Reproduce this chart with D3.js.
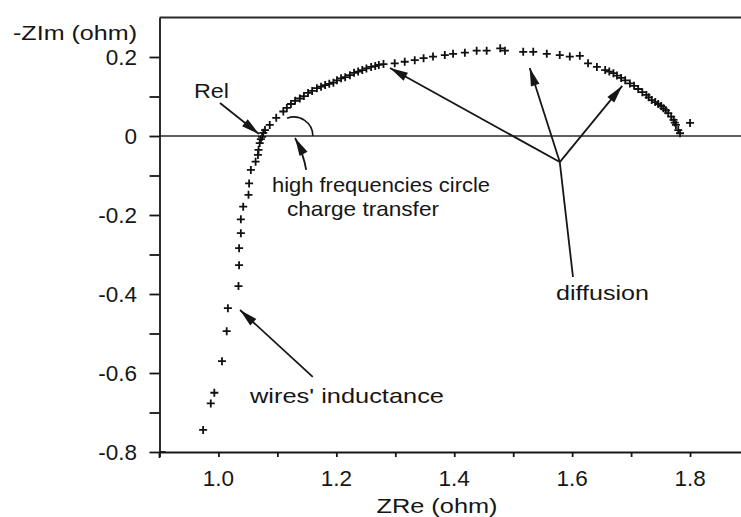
<!DOCTYPE html>
<html>
<head>
<meta charset="utf-8">
<script src="https://cdn.jsdelivr.net/npm/d3@7"></script>
<style>
  html, body { margin: 0; padding: 0; background: #fff; }
  svg { display: block; }
  text { font-family: "Liberation Sans", Arial, Helvetica, sans-serif; fill: #161616; }
</style>
</head>
<body>
<svg id="chart" width="741" height="517"></svg>
<script>
// Impedance spectrum (Nyquist plot): real part vs. negative imaginary part, in ohm.
// Inductive branch below the real axis (high frequencies, wires' inductance).
const inductiveRe = [0.974, 0.987, 0.993, 1.006, 1.014, 1.016, 1.034, 1.035, 1.035, 1.038,
                     1.038, 1.042, 1.051, 1.052, 1.055, 1.063, 1.067, 1.068, 1.070, 1.072, 1.074];
const inductiveIm = [-0.744, -0.677, -0.650, -0.570, -0.494, -0.436, -0.380, -0.327, -0.284, -0.246,
                     -0.211, -0.179, -0.149, -0.120, -0.086, -0.065, -0.048, -0.035, -0.018, -0.008, -0.002];

// Capacitive arc above the real axis (charge transfer + diffusion).
const arcRe = [1.076, 1.079, 1.087, 1.098, 1.110, 1.116, 1.123, 1.130, 1.138, 1.145,
               1.152, 1.159, 1.167, 1.174, 1.181, 1.188, 1.195, 1.201, 1.208, 1.215,
               1.223, 1.230, 1.237, 1.244, 1.251, 1.259, 1.266, 1.272, 1.280, 1.299,
               1.316, 1.333, 1.348, 1.364, 1.384, 1.398, 1.418, 1.438, 1.455, 1.478,
               1.486, 1.517, 1.534, 1.557, 1.579, 1.596, 1.613, 1.627, 1.642, 1.656,
               1.663, 1.670, 1.676, 1.683, 1.690, 1.698, 1.705, 1.712, 1.719, 1.726,
               1.730, 1.735, 1.741, 1.746, 1.751, 1.755, 1.759, 1.763, 1.768, 1.772,
               1.774, 1.776, 1.780, 1.783, 1.800];
const arcIm = [0.008, 0.015, 0.028, 0.046, 0.062, 0.071, 0.081, 0.089, 0.095, 0.101,
               0.109, 0.114, 0.121, 0.125, 0.129, 0.132, 0.135, 0.141, 0.146, 0.149,
               0.154, 0.160, 0.163, 0.167, 0.171, 0.175, 0.177, 0.180, 0.182, 0.184,
               0.188, 0.192, 0.197, 0.201, 0.205, 0.208, 0.211, 0.216, 0.216, 0.222,
               0.216, 0.213, 0.213, 0.208, 0.205, 0.201, 0.203, 0.184, 0.175, 0.167,
               0.163, 0.159, 0.153, 0.147, 0.141, 0.133, 0.127, 0.119, 0.111, 0.104,
               0.098, 0.091, 0.086, 0.081, 0.076, 0.070, 0.065, 0.058, 0.049, 0.041,
               0.034, 0.028, 0.015, 0.007, 0.033];

const xMajorTicks = [1.0, 1.2, 1.4, 1.6, 1.8];
const xMinorTicks = [0.9, 1.1, 1.3, 1.5, 1.7, 1.9];
const yMajorTicks = [-0.8, -0.6, -0.4, -0.2, 0, 0.2];
const yMinorTicks = [-0.7, -0.5, -0.3, -0.1, 0.1];
const xTitle = "ZRe (ohm)";
const yTitle = "-ZIm (ohm)";

const svg = d3.select("#chart");
const W = 741;
const ink = "#161616";

const x = d3.scaleLinear().domain([0.9, 1.9]).range([159.5, 749]);
const y = d3.scaleLinear().domain([-0.8, 0.3]).range([452, 17.5]);

const fmtY = v => (v === 0 ? "0" : d3.format(".1f")(v).replace("\u2212", "-"));
const fmtX = d3.format(".1f");

// frame: top border and real axis (zero line)
svg.append("line").attr("x1", x(0.9)).attr("x2", W).attr("y1", y(0.3)).attr("y2", y(0.3))
  .attr("stroke", "#2a2a2a").attr("stroke-width", 1.8);
svg.append("line").attr("x1", x(0.9)).attr("x2", W).attr("y1", y(0)).attr("y2", y(0))
  .attr("stroke", "#2a2a2a").attr("stroke-width", 1.6);

// axes (ticks only; labels are set below)
function styleAxis(g) {
  g.selectAll("path, line").attr("stroke", ink).attr("stroke-width", 1.8);
  g.selectAll("text").remove();
}
svg.append("g").attr("transform", `translate(0,${y(-0.8)})`)
  .call(d3.axisBottom(x).tickValues(xMajorTicks.concat(xMinorTicks)).tickSize(5).tickSizeOuter(0).tickFormat(""))
  .call(styleAxis);
svg.append("g").attr("transform", `translate(${x(0.9)},0)`)
  .call(d3.axisLeft(y).tickValues(yMajorTicks.concat(yMinorTicks)).tickSize(10).tickSizeOuter(0).tickFormat(""))
  .call(styleAxis);
// small overshoot of the axes at the origin corner
svg.append("line").attr("x1", x(0.9)).attr("x2", x(0.9)).attr("y1", y(-0.8)).attr("y2", y(-0.8) + 6)
  .attr("stroke", ink).attr("stroke-width", 1.8);
svg.append("line").attr("x1", x(0.9)).attr("x2", x(0.9) + 6).attr("y1", y(-0.8)).attr("y2", y(-0.8))
  .attr("stroke", ink).attr("stroke-width", 1.8);

const FS = 21;
// the lettering of this figure is set wide; width is given explicitly where known
function label(str, px, py, anchor, width, size) {
  const t = svg.append("text").attr("x", px).attr("y", py)
    .attr("text-anchor", anchor || "start").attr("font-size", size || FS).text(str);
  if (width) t.attr("textLength", width).attr("lengthAdjust", "spacingAndGlyphs");
  return t;
}

// tick labels
yMajorTicks.forEach(v => label(fmtY(v), 137, y(v) + 7.5, "end", null, 22.5));
xMajorTicks.forEach(v => label(fmtX(v), x(v), 486, "middle", null, 22.5));

// axis titles
label(yTitle, 137, 40, "end", 124);
label(xTitle, 437, 513, "middle", 121);

// data markers
const cross = "M-4,0H4M0,-4V4";
const pts = inductiveRe.map((r, i) => [r, inductiveIm[i]])
  .concat(arcRe.map((r, i) => [r, arcIm[i]]));
svg.append("g").selectAll("path").data(pts).join("path")
  .attr("transform", d => `translate(${x(d[0])},${y(d[1])})`)
  .attr("d", cross).attr("stroke", "#111").attr("stroke-width", 1.8).attr("fill", "none");

// arrows with filled heads
function arrow(x0, y0, x1, y1, bend) {
  const p0 = [x(x0), y(y0)], p1 = [x(x1), y(y1)];
  let dir;
  if (bend) {
    const c = [(p0[0] + p1[0]) / 2 + bend[0], (p0[1] + p1[1]) / 2 + bend[1]];
    svg.append("path").attr("d", `M${p0[0]},${p0[1]}Q${c[0]},${c[1]} ${p1[0]},${p1[1]}`)
      .attr("fill", "none").attr("stroke", ink).attr("stroke-width", 1.8);
    dir = [p1[0] - c[0], p1[1] - c[1]];
  } else {
    svg.append("line").attr("x1", p0[0]).attr("y1", p0[1]).attr("x2", p1[0]).attr("y2", p1[1])
      .attr("stroke", ink).attr("stroke-width", 1.8);
    dir = [p1[0] - p0[0], p1[1] - p0[1]];
  }
  const L = Math.hypot(dir[0], dir[1]);
  const u = [dir[0] / L, dir[1] / L], n = [-u[1], u[0]];
  const len = 18, hw = 4.5;
  const b = [p1[0] - u[0] * len, p1[1] - u[1] * len];
  svg.append("path")
    .attr("d", `M${p1[0]},${p1[1]}L${b[0] + n[0] * hw},${b[1] + n[1] * hw}L${b[0] - n[0] * hw},${b[1] - n[1] * hw}Z`)
    .attr("fill", ink);
}
function line(x0, y0, x1, y1) {
  svg.append("line").attr("x1", x(x0)).attr("y1", y(y0)).attr("x2", x(x1)).attr("y2", y(y1))
    .attr("stroke", ink).attr("stroke-width", 1.8);
}

// electrolyte resistance
label("Rel", 194, 98, "start", 35);
arrow(1.0026, 0.0835, 1.0688, 0.005);

// high-frequency circle / charge transfer, with the angle mark
const cx = x(1.128), cy = y(0), r = 19;
const ang = d3.path();
ang.arc(cx, cy, r, Math.atan2(-18, -7), 0, false);
svg.append("path").attr("d", ang.toString()).attr("fill", "none").attr("stroke", ink).attr("stroke-width", 1.6);
arrow(1.1488, -0.086, 1.130, -0.005, [3, 0]);
label("high frequencies circle", 272, 192, "start", 218);
label("charge transfer", 287, 216, "start", 152);

// wires' inductance
arrow(1.160, -0.610, 1.0366, -0.4405);
label("wires' inductance", 250, 403, "start", 194);

// diffusion
line(1.579, -0.066, 1.6014, -0.357);
arrow(1.579, -0.066, 1.291, 0.172);
arrow(1.579, -0.066, 1.528, 0.172);
arrow(1.579, -0.066, 1.685, 0.127);
label("diffusion", 556, 300, "start", 93);
</script>
</body>
</html>
